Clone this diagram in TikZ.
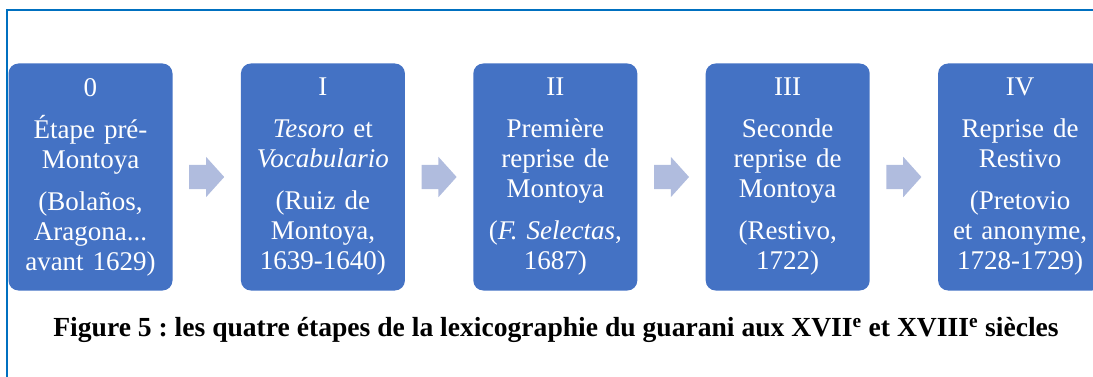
\documentclass[tikz,border=0pt]{standalone}
\usepackage{fontspec}
\setmainfont{Liberation Serif}
\usetikzlibrary{positioning,shapes.arrows}
\definecolor{boxblue}{HTML}{4472C4}
\definecolor{arrowblue}{HTML}{B0BCDE}
\definecolor{frameblue}{HTML}{0070C0}
\frenchspacing

\begin{document}
\begin{tikzpicture}[x=1pt, y=-1pt, node distance=68pt, stage/.style={rectangle, rounded corners=10pt, fill=boxblue, text=white, minimum width=164pt, minimum height=227pt, text width=160pt, align=center, inner sep=0pt, font=\fontsize{27}{30}\selectfont}, stage arrow/.style={single arrow, fill=arrowblue, minimum height=35pt, inner xsep=0pt, inner ysep=12pt, single arrow head extend=8pt, single arrow tip angle=96, outer sep=0pt, anchor=tail, xshift=-17.5pt}]
\useasboundingbox (0,0) rectangle (1093,377);
\draw[frameblue, line width=2pt] (1093,10) -- (7,10) -- (7,377);

\node[stage] (e0) at (90.5,177) {0\\[12pt]Étape pré-\\Montoya\\[12pt](Bolaños,\\Aragona...\\avant 1629)};
\node[stage] (e1) [right=of e0] {I\\[12pt]\textit{Tesoro} et\\\textit{Vocabulario}\\[12pt](Ruiz de\\Montoya,\\1639-1640)};
\node[stage] (e2) [right=of e1] {II\\[12pt]Première\\reprise de\\Montoya\\[12pt](\textit{F. Selectas},\\1687)};
\node[stage] (e3) [right=of e2] {III\\[12pt]Seconde\\reprise de\\Montoya\\[12pt](Restivo,\\1722)};
\node[stage] (e4) [right=of e3] {IV\\[12pt]Reprise de\\Restivo\\[12pt](Pretovio\\et anonyme,\\1728-1729)};

\path (e0) -- (e1) node[midway, stage arrow] (a1) {};
\path (e1) -- (e2) node[midway, stage arrow] (a2) {};
\path (e2) -- (e3) node[midway, stage arrow] (a3) {};
\path (e3) -- (e4) node[midway, stage arrow] (a4) {};

\node[font=\bfseries\fontsize{27.6}{30}\selectfont] (caption) at (556,330) {Figure 5 : les quatre étapes de la lexicographie du guarani aux XVII\textsuperscript{e} et XVIII\textsuperscript{e} siècles};
\end{tikzpicture}
\end{document}
